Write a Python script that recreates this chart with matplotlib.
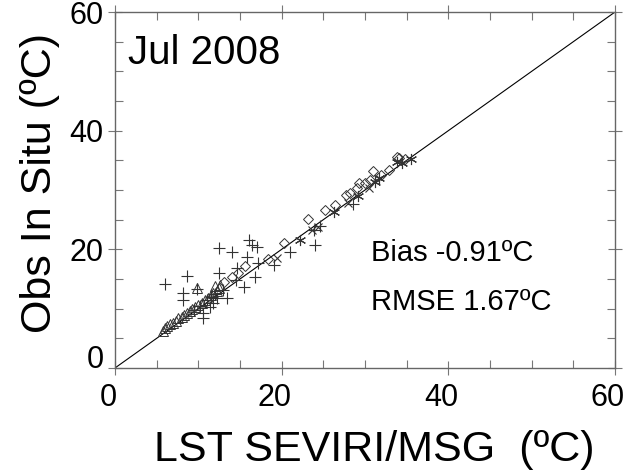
"""
Scatter of in situ LST vs SEVIRI/MSG LST, July 2008.
"""

import matplotlib
matplotlib.use("Agg")
import matplotlib.pyplot as plt
from matplotlib.ticker import MultipleLocator
from matplotlib.transforms import ScaledTranslation

plt.rcParams['font.family'] = ['Liberation Sans', 'DejaVu Sans']

# Data
plus_x = [6.0, 8.2, 8.6, 8.2, 9.8, 10.6, 10.6, 11.4, 12.5, 12.5, 14.0, 13.5,
          14.7, 15.5, 15.8, 16.1, 16.4, 17.0, 16.8, 17.2, 19.1, 21.0, 24.0,
          23.9, 24.6, 28.6, 11.0, 11.5, 12.0, 11.8, 12.3, 13.0, 14.5, 9.5, 10.2]
plus_y = [14.2, 12.6, 15.5, 11.5, 13.3, 9.2, 8.4, 10.3, 20.2, 16.0, 19.6, 11.8,
          16.8, 13.6, 18.7, 21.6, 20.7, 20.4, 15.4, 17.7, 17.4, 19.6, 20.7,
          23.3, 24.0, 27.7, 11.5, 12.0, 12.5, 11.0, 11.8, 13.2, 14.8, 9.8, 10.4]

tri_x = [5.8, 6.0, 6.3, 6.6, 7.0, 7.3, 7.6, 8.0, 8.3, 8.6, 9.0, 9.3, 9.6, 10.0,
         10.4, 10.8, 11.2, 11.5, 11.8, 12.2, 12.5, 9.8, 12.0, 12.6]
tri_y = [6.2, 6.8, 7.0, 7.4, 7.6, 8.0, 8.4, 8.6, 9.0, 9.3, 9.6, 10.0, 10.2, 10.6,
         10.9, 11.4, 11.8, 12.3, 12.6, 13.0, 13.4, 13.5, 13.8, 14.0]

dia_x = [13.1, 14.0, 14.8, 15.6, 18.4, 20.3, 23.2, 25.2, 26.4, 27.7, 28.2, 29.0,
         29.3, 30.0, 30.6, 31.0, 31.9, 32.9, 33.9, 34.1, 34.8]
dia_y = [14.5, 15.4, 16.0, 17.2, 18.4, 21.0, 25.1, 26.6, 27.5, 29.2, 29.5, 30.4,
         31.2, 31.2, 31.7, 33.2, 32.5, 33.4, 35.6, 35.4, 35.2]

star_x = [22.2, 26.3, 29.2, 31.2, 31.7, 33.9, 35.5, 34.5]
star_y = [21.6, 26.3, 29.0, 31.4, 32.0, 34.7, 35.2, 34.6]

cross_x = [23.6, 24.4, 28.0, 30.5, 19.5]
cross_y = [23.3, 23.8, 27.8, 30.3, 18.6]

lims = [0, 60]
major = [0, 20, 40, 60]

fig = plt.figure(figsize=(6.3, 4.71), dpi=100)
ax = fig.add_axes([0.1825, 0.2187, 0.7937, 0.7558])

ax.plot(lims, lims, color='black', lw=0.8)

ink = '#333333'
ax.plot(plus_x, plus_y, ls='none', marker='+', ms=9, mew=0.8, color=ink)
ax.plot(tri_x, tri_y, ls='none', marker='^', ms=6.5, mew=0.7, mfc='none', mec=ink)
ax.plot(dia_x, dia_y, ls='none', marker='D', ms=5.5, mew=0.7, mfc='none', mec=ink)
ax.plot(star_x, star_y, ls='none', marker=(6, 2, 0), ms=8, mew=0.8, color=ink)
ax.plot(cross_x, cross_y, ls='none', marker='x', ms=6, mew=0.8, color=ink)

ax.set_xlim(lims)
ax.set_ylim(lims)

ax.set_xticks(major)
ax.set_yticks(major)
ax.xaxis.set_minor_locator(MultipleLocator(5))
ax.yaxis.set_minor_locator(MultipleLocator(5))
ax.tick_params(which='major', direction='inout', length=10, width=0.8,
               color='#777777', labelsize=22, top=True, right=True)
ax.tick_params(axis='x', which='major', pad=6)
ax.tick_params(axis='y', which='major', pad=3)
ax.tick_params(which='minor', direction='in', length=6, width=0.8,
               color='#777777', top=True, right=True)

for s in ax.spines.values():
    s.set_color('#666666')
    s.set_linewidth(1.0)

ax.set_xlabel("LST SEVIRI/MSG  (ºC)", fontsize=31, va='baseline')
ax.set_ylabel("Obs In Situ (ºC)", fontsize=31, va='center')
ax.xaxis.set_label_coords(0.518, -0.262)
ax.yaxis.set_label_coords(-0.15, 0.52)

ax.text(1.6, 53.1, "Jul 2008", fontsize=29, va='center', ha='left')
ax.text(30.7, 19.4, "Bias -0.91ºC", fontsize=21, va='center', ha='left')
ax.text(30.7, 11.1, "RMSE 1.67ºC", fontsize=21, va='center', ha='left')

# nudge tick labels a little, as in the original figure
fig.canvas.draw()
shift_left = ScaledTranslation(-5 / 72, 0, fig.dpi_scale_trans)
for lab in ax.get_xticklabels():
    lab.set_transform(lab.get_transform() + shift_left)
ylabs = ax.get_yticklabels()
ylabs[0].set_transform(ylabs[0].get_transform()
                       + ScaledTranslation(0, 8 / 72, fig.dpi_scale_trans))

fig.savefig("out.png", dpi=100)
